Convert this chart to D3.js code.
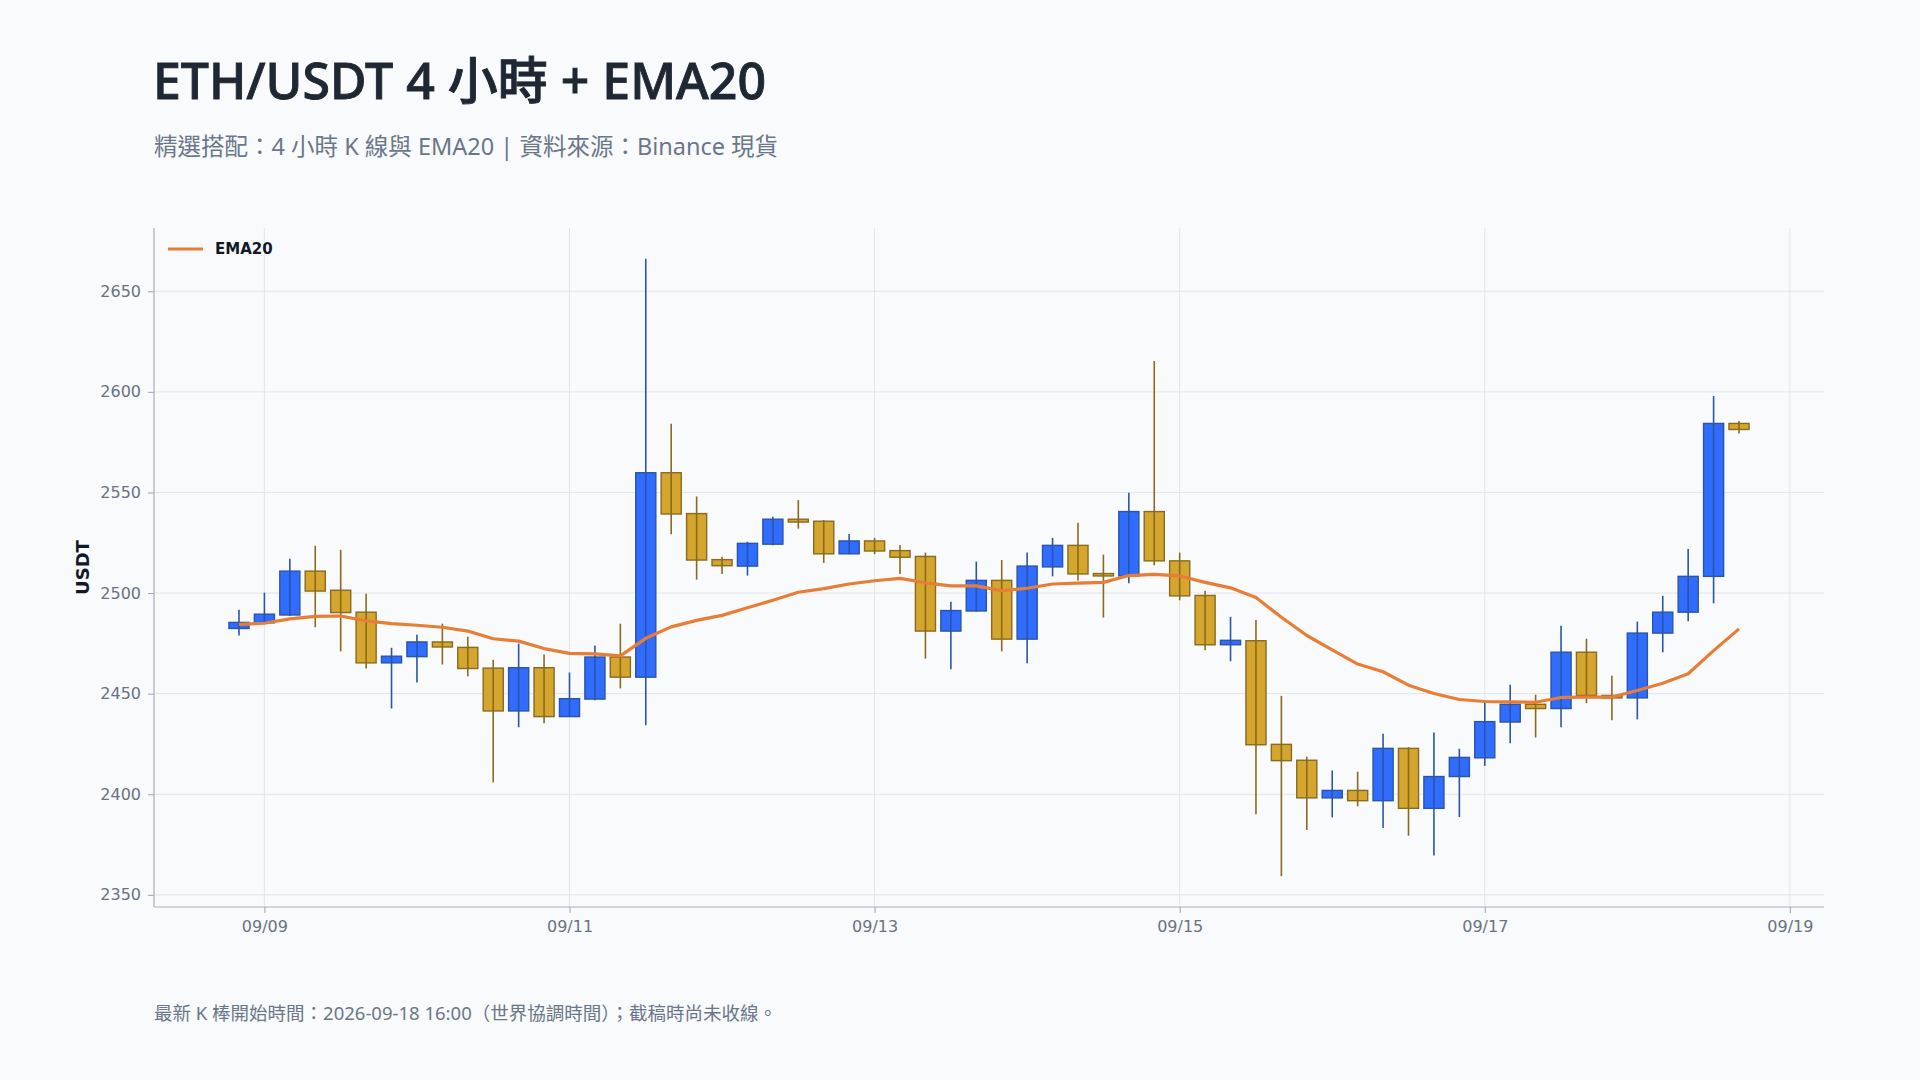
<!DOCTYPE html>
<html><head><meta charset="utf-8">
<script src="https://cdn.jsdelivr.net/npm/d3@7"></script>
<style>
html,body{margin:0;padding:0;background:#f8fafc;}
svg{display:block;font-family:"DejaVu Sans","Noto Sans CJK TC",sans-serif;}
</style></head>
<body><svg id="chart" width="1920" height="1080"></svg>
<script>
// ---- data (4h candles, open time UTC) ----
const times = ["2026-09-08T20:00","2026-09-09T00:00","2026-09-09T04:00","2026-09-09T08:00","2026-09-09T12:00","2026-09-09T16:00","2026-09-09T20:00",
"2026-09-10T00:00","2026-09-10T04:00","2026-09-10T08:00","2026-09-10T12:00","2026-09-10T16:00","2026-09-10T20:00",
"2026-09-11T00:00","2026-09-11T04:00","2026-09-11T08:00","2026-09-11T12:00","2026-09-11T16:00","2026-09-11T20:00",
"2026-09-12T00:00","2026-09-12T04:00","2026-09-12T08:00","2026-09-12T12:00","2026-09-12T16:00","2026-09-12T20:00",
"2026-09-13T00:00","2026-09-13T04:00","2026-09-13T08:00","2026-09-13T12:00","2026-09-13T16:00","2026-09-13T20:00",
"2026-09-14T00:00","2026-09-14T04:00","2026-09-14T08:00","2026-09-14T12:00","2026-09-14T16:00","2026-09-14T20:00",
"2026-09-15T00:00","2026-09-15T04:00","2026-09-15T08:00","2026-09-15T12:00","2026-09-15T16:00","2026-09-15T20:00",
"2026-09-16T00:00","2026-09-16T04:00","2026-09-16T08:00","2026-09-16T12:00","2026-09-16T16:00","2026-09-16T20:00",
"2026-09-17T00:00","2026-09-17T04:00","2026-09-17T08:00","2026-09-17T12:00","2026-09-17T16:00","2026-09-17T20:00",
"2026-09-18T00:00","2026-09-18T04:00","2026-09-18T08:00","2026-09-18T12:00","2026-09-18T16:00"];
const opens  = [2482.4,2485.2,2489.1,2510.9,2501.4,2490.5,2465.3,2468.4,2475.7,2473.0,
2462.7,2441.4,2462.9,2438.6,2447.3,2468.2,2458.2,2559.8,2539.5,2516.6,
2513.4,2524.3,2536.7,2535.7,2519.5,2525.9,2521.1,2518.2,2481.1,2491.1,
2506.3,2477.1,2513.0,2523.7,2509.7,2508.5,2540.5,2516.0,2498.8,2474.3,
2476.3,2424.8,2416.9,2398.2,2401.9,2396.8,2422.8,2393.0,2408.8,2418.1,
2435.9,2444.7,2442.6,2470.6,2449.1,2447.9,2480.1,2490.5,2508.3,2584.3];
const highs  = [2491.7,2500.2,2517.0,2523.5,2521.5,2499.6,2472.8,2479.3,2484.8,2478.3,
2466.8,2474.9,2469.4,2460.5,2473.9,2484.8,2666.1,2584.1,2548.0,2518.0,
2525.5,2537.9,2546.2,2536.3,2529.4,2527.4,2523.9,2520.1,2495.7,2515.6,
2516.4,2520.1,2527.4,2534.9,2519.1,2549.9,2615.3,2520.1,2501.2,2488.2,
2486.6,2448.9,2418.7,2411.8,2411.2,2430.1,2423.4,2430.7,2422.6,2445.5,
2454.4,2449.5,2483.8,2477.3,2458.9,2485.8,2498.6,2521.9,2597.9,2585.5];
const lows   = [2478.9,2484.6,2488.6,2483.0,2471.0,2462.5,2442.6,2455.6,2464.5,2458.6,
2405.9,2433.3,2435.3,2438.4,2446.7,2452.6,2434.3,2529.2,2506.7,2509.5,
2508.7,2523.7,2532.0,2515.0,2519.3,2519.3,2509.5,2467.4,2462.1,2490.7,
2471.0,2465.1,2508.3,2506.3,2487.8,2504.9,2513.8,2496.4,2471.6,2466.1,
2390.1,2359.3,2382.2,2388.5,2394.0,2383.2,2379.4,2369.5,2388.7,2414.1,
2425.4,2428.2,2433.3,2445.3,2436.8,2437.2,2470.6,2486.0,2494.9,2579.3];
const closes = [2485.4,2489.5,2510.9,2501.0,2490.3,2465.3,2468.6,2475.7,2473.2,2462.5,
2441.4,2462.9,2438.6,2447.5,2468.2,2458.2,2559.8,2539.3,2516.4,2513.6,
2524.7,2536.7,2535.3,2519.5,2525.9,2520.9,2517.8,2481.1,2491.3,2506.3,
2477.1,2513.4,2523.7,2509.5,2508.5,2540.5,2516.0,2498.6,2474.3,2476.5,
2424.6,2416.7,2398.2,2401.9,2396.8,2422.8,2393.0,2408.8,2418.3,2436.1,
2444.7,2442.6,2470.6,2449.1,2447.9,2480.1,2490.5,2508.3,2584.3,2581.3];
const ema20  = [2484.4,2485.0,2487.2,2488.4,2488.6,2486.2,2484.8,2484.0,2483.0,2481.1,
2477.3,2476.1,2472.4,2470.0,2469.8,2468.8,2477.5,2483.2,2486.4,2488.9,
2492.7,2496.4,2500.4,2502.2,2504.5,2506.1,2507.3,2505.1,2503.6,2503.6,
2501.2,2502.4,2504.5,2504.9,2505.3,2508.7,2509.3,2508.5,2505.3,2502.6,
2497.8,2488.0,2478.9,2471.8,2464.7,2460.9,2454.2,2450.1,2447.1,2446.1,
2445.9,2445.7,2448.1,2448.3,2448.3,2451.6,2455.2,2459.9,2471.4,2482.2];
const yTicks = [2350,2400,2450,2500,2550,2600,2650];
const xTickLabels = ["09/09","09/11","09/13","09/15","09/17","09/19"];

const title = "ETH/USDT 4 小時 + EMA20";
const subtitle = "精選搭配：4 小時 K 線與 EMA20 | 資料來源：Binance 現貨";
const footer = "最新 K 棒開始時間：2026-09-18 16:00（世界協調時間）；截稿時尚未收線。";

// ---- build ----
const FONT = '"DejaVu Sans","Noto Sans CJK TC",sans-serif';
const HFONT = '"Noto Sans","Noto Sans CJK TC",sans-serif';
const parse = d3.utcParse("%Y-%m-%dT%H:%M");
const data = times.map((t,i)=>({t:parse(t),o:opens[i],h:highs[i],l:lows[i],c:closes[i],e:ema20[i]}));
const xTicks = xTickLabels.map(s=>parse("2026-"+s.replace("/","-")+"T00:00"));

const L=154,R=1824,T=228,B=907;
const svg = d3.select("#chart");
svg.append("rect").attr("width",1920).attr("height",1080).attr("fill","#f8fafc");

const padMs = 13.37*3600*1000;
const x = d3.scaleUtc().domain([new Date(+data[0].t-padMs), new Date(+data[data.length-1].t+padMs)]).range([L,R]);
const lo = d3.min(lows), hi = d3.max(highs), span = hi-lo;
const y = d3.scaleLinear().domain([lo-0.05*span, hi+0.05*span]).range([B,T]);

// grid
const g = svg.append("g");
g.selectAll(".hg").data(yTicks).join("line")
 .attr("x1",L).attr("x2",R).attr("y1",d=>y(d)).attr("y2",d=>y(d))
 .attr("stroke","#e1e5eb").attr("stroke-width",1);
g.selectAll(".vg").data(xTicks).join("line")
 .attr("x1",d=>x(d)).attr("x2",d=>x(d)).attr("y1",T).attr("y2",B)
 .attr("stroke","#e1e5eb").attr("stroke-width",1);

// axes
const yAxis = svg.append("g").attr("transform",`translate(${L},0)`)
 .call(d3.axisLeft(y).tickValues(yTicks).tickSize(6).tickPadding(7).tickFormat(d3.format("d")));
const xAxis = svg.append("g").attr("transform",`translate(0,${B})`)
 .call(d3.axisBottom(x).tickValues(xTicks).tickSize(6).tickPadding(8).tickFormat(d3.utcFormat("%m/%d")));
[yAxis,xAxis].forEach(a=>{
  a.select(".domain").remove();
  a.selectAll(".tick line").attr("stroke","#9aa3b2");
  a.selectAll(".tick text").attr("fill","#6b7280").style("font-size","16px").style("font-family",FONT);
});
svg.append("line").attr("x1",L).attr("x2",L).attr("y1",T).attr("y2",B).attr("stroke","#a7afbd").attr("stroke-width",1.2);
svg.append("line").attr("x1",L).attr("x2",R).attr("y1",B).attr("y2",B).attr("stroke","#a7afbd").attr("stroke-width",1.2);

// candles
const step = x(new Date(+data[0].t+4*3600*1000)) - x(data[0].t);
const bw = step*0.79;
const upFill="#2f6cff", upStroke="#2b55a6", dnFill="#d4a62d", dnStroke="#8a6a1f";
const cg = svg.append("g");
const cand = cg.selectAll("g").data(data).join("g");
cand.append("rect")
 .attr("x",d=>x(d.t)-bw/2).attr("width",bw)
 .attr("y",d=>y(Math.max(d.o,d.c)))
 .attr("height",d=>Math.max(1.5,Math.abs(y(d.o)-y(d.c))))
 .attr("fill",d=>d.c>=d.o?upFill:dnFill)
 .attr("stroke",d=>d.c>=d.o?upStroke:dnStroke).attr("stroke-width",1.4);
cand.append("line")
 .attr("x1",d=>x(d.t)).attr("x2",d=>x(d.t))
 .attr("y1",d=>y(d.h)).attr("y2",d=>y(d.l))
 .attr("stroke",d=>d.c>=d.o?upStroke:dnStroke).attr("stroke-width",1.6);

// EMA
svg.append("path").datum(data)
 .attr("d",d3.line().x(d=>x(d.t)).y(d=>y(d.e)))
 .attr("fill","none").attr("stroke","#e87d35").attr("stroke-width",3.2).attr("stroke-linejoin","round");

// legend
svg.append("line").attr("x1",168).attr("x2",203).attr("y1",249).attr("y2",249).attr("stroke","#e87d35").attr("stroke-width",3.2);
svg.append("text").attr("x",215).attr("y",249).attr("dy","0.35em").text("EMA20")
 .attr("fill","#111827").style("font-size","15px").style("font-weight","700");

// y label
svg.append("text").attr("transform",`translate(89,${(T+B)/2}) rotate(-90)`).attr("text-anchor","middle")
 .text("USDT").attr("fill","#111827").style("font-size","18px").style("font-weight","700");

// titles
svg.append("text").attr("x",153).attr("y",99).text(title).style("font-family",HFONT)
 .attr("fill","#1f2733").attr("stroke","#1f2733").attr("stroke-width",0.9)
 .style("font-size","50px").style("font-weight","500");
svg.append("text").attr("x",154).attr("y",155).text(subtitle).style("font-family",HFONT)
 .attr("fill","#6b7789").style("font-size","23.5px");
svg.append("text").attr("x",154).attr("y",1020).text(footer).style("font-family",HFONT)
 .attr("fill","#6b7789").style("font-size","18.5px");
</script></body></html>
